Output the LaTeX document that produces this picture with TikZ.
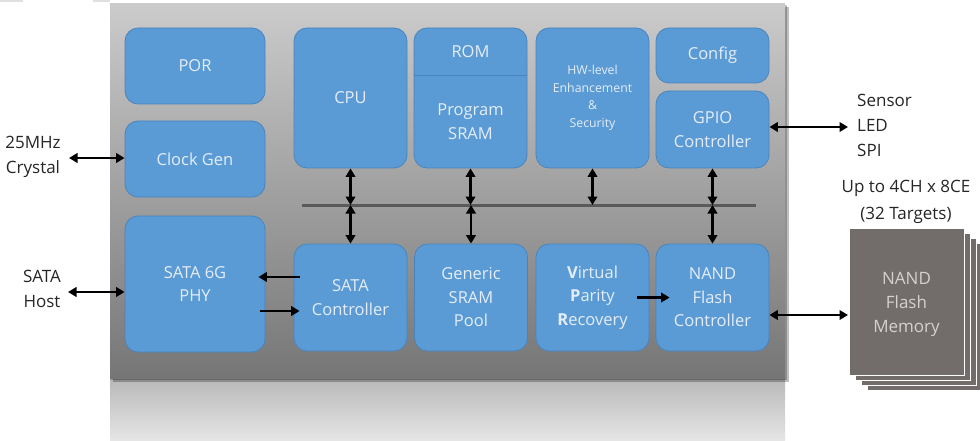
\documentclass[tikz,border=0pt]{standalone}
\usepackage{fontspec}
\setmainfont{Open Sans}
\usetikzlibrary{arrows.meta,calc}
\definecolor{blufill}{HTML}{5B9BD5}
\definecolor{bluedge}{HTML}{4A84BC}
\definecolor{btxt}{HTML}{E4EDF7}
\definecolor{lbltxt}{HTML}{262626}
\definecolor{busc}{HTML}{5A5A5A}
\definecolor{memc}{HTML}{726D6B}
\definecolor{memtxt}{HTML}{D6D1CF}
\definecolor{chiptop}{HTML}{CBCBCB}
\definecolor{chipbot}{HTML}{767676}
\definecolor{refltop}{HTML}{B8B8B8}
\definecolor{reflbot}{HTML}{E6E6E6}
\tikzset{
  blkbox/.style={draw=bluedge, fill=blufill, rounded corners=13pt, line width=0.8pt,
    text=btxt, align=center, font=\fontsize{16.5}{23.5}\selectfont, inner sep=0pt},
  btext/.style={text=btxt, align=center, font=\fontsize{16.5}{23.5}\selectfont, inner sep=0pt},
  lbl/.style={text=lbltxt, align=center, font=\fontsize{17}{25}\selectfont, inner sep=0pt},
  arr/.style={line width=2.4pt, -{Triangle[length=8.5pt,width=9.5pt]}},
  dbl/.style={line width=2.4pt, {Triangle[length=8.5pt,width=9.5pt]}-{Triangle[length=8.5pt,width=9.5pt]}},
  memlayer/.style={fill=memc, draw=white, line width=1pt}
}
\begin{document}
\begin{tikzpicture}[x=1pt,y=-1pt]
\useasboundingbox (0,0) rectangle (980,441);
\fill[white] (0,0) rectangle (980,441);
% small top-left bars
\fill[black!12] (0,0) rectangle (23,2);
\fill[black!12] (93,0) rectangle (110,2);
% reflection
\shade[top color=refltop, bottom color=reflbot] (110,378) rectangle (785,441);
% shadow of chip
\fill[black, opacity=0.25] (113,7) rectangle (789,382);
\fill[black, opacity=0.25] (111,5) rectangle (787,380);
% chip
\shade[top color=chiptop, bottom color=chipbot] (110,4) rectangle (785,378);

% blocks
\node[blkbox, minimum width=140pt, minimum height=76pt] (por) at (195,66) {POR};
\node[blkbox, minimum width=140pt, minimum height=76pt] (clock) at (195,159) {Clock Gen};
\node[blkbox, minimum width=140pt, minimum height=136pt] (phy) at (195,284) {SATA 6G\\PHY};
\node[blkbox, minimum width=113pt, minimum height=140pt] (cpu) at (350.5,98) {CPU};
\node[blkbox, minimum width=113pt, minimum height=140pt] (romsram) at (470.5,98) {};
\coordinate (romdiv) at (0,75);
\draw[bluedge, line width=0.8pt] (romdiv -| romsram.west) -- (romdiv -| romsram.east);
\node[btext] (rom) at (470.5,52) {ROM};
\node[btext] (psram) at (470.5,121.5) {Program\\SRAM};
\node[blkbox, minimum width=113pt, minimum height=140pt, font=\fontsize{12.3}{17.5}\selectfont] (hw) at (592.5,98) {HW-level\\Enhancement\\\&\\Security};
\node[blkbox, minimum width=113pt, minimum height=55pt] (config) at (712.5,55.5) {Config};
\node[blkbox, minimum width=113pt, minimum height=77pt] (gpio) at (712.5,129.5) {GPIO\\Controller};
\node[blkbox, minimum width=113pt, minimum height=107pt] (sc) at (350.5,297.5) {SATA\\Controller};
\node[blkbox, minimum width=113pt, minimum height=107pt] (gsp) at (471,297.5) {Generic\\SRAM\\Pool};
\node[blkbox, minimum width=113pt, minimum height=107pt] (vpr) at (592.5,297.5) {\textbf{V}irtual\\\textbf{P}arity\\\textbf{R}ecovery};
\node[blkbox, minimum width=113pt, minimum height=107pt] (nand) at (712.5,297.5) {NAND\\Flash\\Controller};

% bus
\draw[busc, line width=3pt] (302,205) coordinate (busL) -- (756,205) coordinate (busR);
\draw[dbl] (cpu.south) -- (cpu.south |- busL);
\draw[dbl] (sc.north |- busL) -- (sc.north);
\draw[dbl] (romsram.south) -- (romsram.south |- busL);
\draw[dbl] (gsp.north |- busL) -- (gsp.north);
\draw[dbl] (hw.south) -- (hw.south |- busL);
\draw[dbl] (gpio.south) -- (gpio.south |- busL);
\draw[dbl] (nand.north |- busL) -- (nand.north);

% PHY <-> SATA controller
\draw[arr] ([shift={(6,-20.5)}]sc.west) -- ([shift={(-7,-7)}]phy.east);
\draw[arr] ([shift={(-5,27)}]phy.east) -- ([shift={(6,13.5)}]sc.west);
% VPR -> NAND
\draw[arr] ([shift={(-12,0)}]vpr.east) -- ([shift={(14,0)}]nand.west);

% left labels
\node[lbl] (xtal) at (33,157) {25MHz\\Crystal};
\coordinate (xtalR) at (69,158);
\draw[dbl] (xtalR) -- (xtalR -| clock.west);
\node[lbl] (host) at (42,289) {SATA\\Host};
\coordinate (hostR) at (68,292);
\draw[dbl] (hostR) -- (hostR -| phy.west);

% right side
\node[lbl, align=left, anchor=west] (sens) at (857,125.5) {Sensor\\LED\\SPI};
\coordinate (sensL) at (848,127);
\draw[dbl] (sensL -| gpio.east) -- (sensL);

\node[lbl, font=\fontsize{17}{27}\selectfont] (upto) at (906,201.5) {Up to 4CH x 8CE\\(32 Targets)};
\draw[memlayer] (867,243) rectangle (982,390);
\draw[memlayer] (861,238) rectangle (976,385);
\draw[memlayer] (855,233) rectangle (970,380);
\node[fill=memc, draw=white, line width=1pt, minimum width=115pt, minimum height=147pt, inner sep=0pt] (mem) at (906.5,301.5) {};
\node[text=memtxt, align=center, inner sep=0pt, font=\fontsize{17}{24}\selectfont] (memlbl) at (906.5,304.5) {NAND\\Flash\\Memory};
\coordinate (memL) at (848,315);
\draw[dbl] (memL -| nand.east) -- (memL);
\end{tikzpicture}
\end{document}
